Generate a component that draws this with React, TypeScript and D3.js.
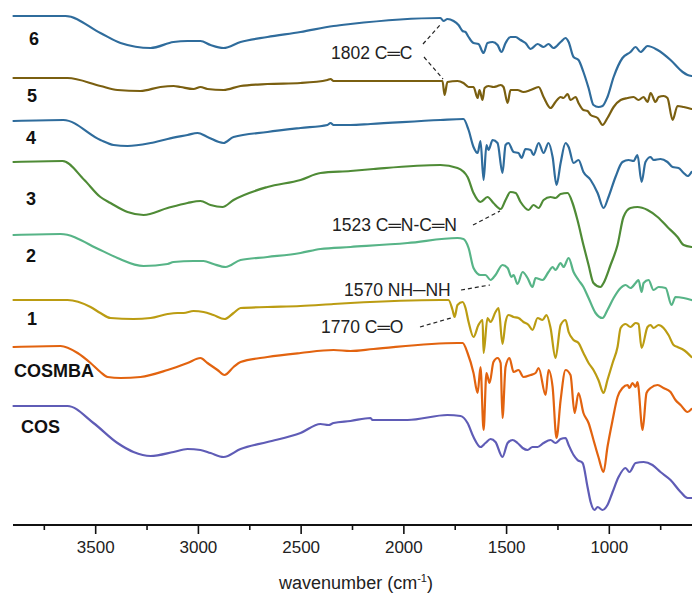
import React from "react";
import * as d3 from "d3";

// ---- Data (wavenumber cm-1, offset transmittance a.u.) ----
const series6: [number, number][] = [
  [3900,509],[3647,509],[3477,492],[3379,482],[3233,477],[3121,483],[3053,484],[2990,484],[2941,480],[2878,477],
  [2795,483],[2664,488],[2503,493],[2342,499],[2260,501],[1822,507],[1807,504],[1788,506],[1758,504],[1734,500],
  [1714,494],[1700,493],[1685,488],[1661,482],[1637,481],[1612,472],[1593,482],[1568,483],[1544,480],[1525,473],
  [1505,482],[1481,488],[1456,488],[1432,485],[1408,482],[1383,476],[1349,481],[1320,478],[1296,481],[1272,477],
  [1237,483],[1213,487],[1198,483],[1174,468],[1150,465],[1126,453],[1101,437],[1077,420],[1053,418],[1033,419],
  [1009,428],[979,448],[936,467],[897,473],[872,478],[848,473],[814,479],[765,475],[702,465],[643,453],[619,450],[600,449],
];
const series5: [number, number][] = [
  [3900,447],[3637,447],[3477,439],[3394,435],[3282,434],[3185,438],[3121,439],[3087,438],[3024,436],[2990,438],
  [2956,436],[2878,435],[2795,439],[2664,441],[2503,442],[2372,445],[2357,446],[2342,444],[2260,444],[1822,444],
  [1812,444],[1802,430],[1788,443],[1739,444],[1710,442],[1685,438],[1661,438],[1641,427],[1632,435],[1617,425],
  [1607,437],[1588,439],[1564,438],[1544,439],[1529,440],[1515,438],[1495,422],[1481,435],[1447,435],[1418,433],
  [1383,435],[1344,438],[1320,428],[1286,417],[1262,423],[1237,428],[1223,427],[1203,431],[1189,425],[1164,428],
  [1150,422],[1126,415],[1106,414],[1091,410],[1057,407],[1033,400],[1009,407],[979,418],[945,425],[911,427],
  [882,428],[858,425],[833,428],[814,423],[799,432],[775,423],[760,428],[736,429],[717,427],[692,405],[668,419],
  [638,418],[600,416],
];
const series4: [number, number][] = [
  [3900,404],[3657,405],[3477,385],[3413,380],[3345,379],[3233,382],[3150,386],[3053,390],[3004,392],[2956,388],
  [2878,382],[2829,388],[2664,393],[2503,397],[2372,400],[2357,402],[2342,400],[2260,400],[2162,401],[1822,405],
  [1710,406],[1685,395],[1661,378],[1641,372],[1627,384],[1612,345],[1598,380],[1588,375],[1568,385],[1544,382],
  [1520,352],[1505,380],[1491,382],[1466,373],[1442,372],[1427,367],[1408,376],[1383,375],[1369,370],[1344,382],
  [1320,372],[1296,382],[1276,368],[1257,340],[1237,362],[1213,382],[1198,378],[1174,362],[1150,365],[1126,353],
  [1091,345],[1057,332],[1028,317],[1004,328],[970,348],[936,363],[906,365],[882,364],[863,370],[843,343],
  [824,363],[799,368],[785,365],[751,366],[717,363],[692,358],[663,357],[638,352],[619,349],[600,353],
];
const series3: [number, number][] = [
  [3900,363],[3661,364],[3555,345],[3477,328],[3428,322],[3345,313],[3267,310],[3150,317],[3053,322],[2990,324],
  [2941,320],[2883,318],[2829,325],[2664,338],[2503,345],[2406,352],[2260,354],[2148,356],[1822,360],[1739,357],
  [1690,348],[1661,332],[1627,323],[1593,328],[1564,322],[1529,316],[1505,325],[1481,333],[1456,332],[1432,323],
  [1393,315],[1369,320],[1344,317],[1320,325],[1286,328],[1262,327],[1237,331],[1203,332],[1179,322],[1155,305],
  [1126,280],[1101,260],[1077,242],[1043,238],[1028,242],[994,260],[960,280],[931,308],[897,317],[863,318],
  [814,315],[765,308],[717,298],[668,288],[638,280],[600,278],
];
const series2: [number, number][] = [
  [3900,290],[3671,291],[3477,275],[3394,267],[3267,259],[3150,261],[3121,263],[3024,264],[2975,264],[2927,261],
  [2868,258],[2795,265],[2664,268],[2503,272],[2406,276],[2260,278],[1982,282],[1739,287],[1710,286],[1685,277],
  [1661,257],[1627,250],[1603,250],[1578,245],[1554,250],[1520,260],[1495,257],[1476,248],[1466,250],[1447,241],
  [1422,253],[1398,247],[1374,238],[1359,247],[1325,245],[1296,253],[1276,258],[1262,255],[1237,262],[1223,258],
  [1198,267],[1174,253],[1150,245],[1126,238],[1101,227],[1067,212],[1033,207],[1009,215],[979,227],[945,237],
  [921,240],[897,237],[872,242],[858,245],[843,233],[833,242],[809,245],[785,235],[760,238],[726,237],[697,220],
  [678,228],[638,227],[600,225],
];
const series1: [number, number][] = [
  [3900,225],[3637,225],[3525,218],[3477,212],[3428,207],[3316,206],[3233,207],[3150,211],[3102,212],[3072,212],
  [3024,214],[2975,213],[2927,210],[2873,206],[2829,212],[2795,217],[2664,218],[2503,219],[2342,221],[2260,222],
  [1822,225],[1783,225],[1763,215],[1753,208],[1739,220],[1714,223],[1700,217],[1685,203],[1661,188],[1637,200],
  [1617,205],[1612,172],[1593,207],[1578,203],[1554,213],[1539,217],[1520,181],[1505,203],[1491,210],[1466,208],
  [1442,207],[1418,203],[1393,200],[1374,195],[1349,207],[1325,205],[1306,210],[1286,197],[1262,167],[1237,200],
  [1213,205],[1198,193],[1174,185],[1150,182],[1126,172],[1101,162],[1077,155],[1053,145],[1028,132],[1009,145],
  [984,162],[960,178],[945,197],[921,201],[897,198],[872,202],[858,201],[843,177],[814,198],[799,200],[785,197],
  [760,200],[736,197],[712,190],[687,180],[668,178],[638,175],[600,168],
];
const seriesCOSMBA: [number, number][] = [
  [3900,178],[3671,179],[3588,172],[3525,162],[3477,153],[3442,148],[3379,147],[3282,148],[3150,155],[3053,162],
  [2990,167],[2956,162],[2907,155],[2873,150],[2829,158],[2795,163],[2664,168],[2503,172],[2342,175],[2260,174],
  [2148,176],[1739,182],[1714,182],[1690,172],[1661,152],[1641,132],[1627,158],[1612,95],[1598,152],[1583,142],
  [1564,163],[1544,167],[1529,162],[1520,107],[1505,158],[1486,167],[1466,153],[1442,155],[1418,148],[1383,150],
  [1359,152],[1344,157],[1310,130],[1296,155],[1276,138],[1257,87],[1237,125],[1213,155],[1189,150],[1169,112],
  [1150,132],[1126,112],[1101,102],[1077,85],[1053,68],[1028,53],[1009,78],[984,105],[960,128],[936,137],
  [911,140],[902,137],[887,142],[872,138],[863,143],[838,95],[819,132],[799,137],[765,140],[736,137],[702,133],
  [678,125],[653,120],[619,113],[600,116],
];
const seriesCOS: [number, number][] = [
  [3900,119],[3637,119],[3511,102],[3394,82],[3316,73],[3233,69],[3121,73],[3053,76],[2990,75],[2941,72],
  [2878,68],[2795,76],[2664,83],[2503,92],[2406,101],[2367,100],[2342,102],[2260,104],[2162,107],[2153,105],
  [1982,105],[1788,110],[1724,109],[1690,102],[1661,88],[1627,78],[1603,82],[1578,86],[1554,83],[1520,68],
  [1495,82],[1471,85],[1447,82],[1422,77],[1398,75],[1374,78],[1349,78],[1320,82],[1286,85],[1262,82],
  [1237,86],[1213,87],[1198,80],[1174,70],[1155,65],[1130,62],[1106,38],[1091,23],[1072,15],[1057,18],
  [1033,15],[1009,20],[984,33],[955,48],[921,57],[902,53],[872,62],[833,63],[790,60],[751,53],[702,45],
  [653,33],[619,27],[600,27],
];

const seriesNames = ["6", "5", "4", "3", "2", "1", "COSMBA", "COS"];
const seriesData = [series6, series5, series4, series3, series2, series1, seriesCOSMBA, seriesCOS];
const seriesColors = ["#2f6c9c", "#7a5f10", "#2f6c9c", "#4f8b36", "#57b487", "#bb9c12", "#e2630f", "#5f5cb6"];

const majorTicks = [3500, 3000, 2500, 2000, 1500, 1000];
const minorTicks = [3750, 3250, 2750, 2250, 1750, 1250, 750];

const annotationTexts = ["1802 C\u2550C", "1523 C\u2550N-C\u2550N", "1570 NH\u2500NH", "1770 C\u2550O"];

export default function App() {
  const W = 692, H = 594;
  const axisY = 525;
  const x = d3.scaleLinear().domain([3900, 600]).range([13.5, 691.5]);
  const y = d3.scaleLinear().domain([0, 510]).range([525, 15]);
  const line = d3.line<[number, number]>()
    .x((d) => x(d[0]))
    .y((d) => y(d[1]))
    .curve(d3.curveMonotoneX);

  const font = "'Liberation Sans', Arial, Helvetica, sans-serif";

  // label placement (layout)
  const labelPos: [number, number][] = [
    [29, 45], [27, 102], [26, 144], [26, 205], [26, 262], [27, 325], [14, 377], [21, 433],
  ];
  const annPos: [number, number][] = [[331, 59], [332, 231], [344, 296], [321, 333]];
  const leaders: [number, number, number, number][] = [
    [423, 44, 440, 25],
    [424, 57, 443, 79],
    [473, 225, 500, 211],
    [461, 290, 490, 285],
    [420, 327, 451, 318],
  ];

  return (
    <svg width={W} height={H} style={{ position: "absolute", left: 0, top: 0, background: "#fff" }}>
      <rect x={0} y={0} width={W} height={H} fill="#fff" />
      {seriesData.map((d, i) => (
        <path key={i} d={line(d) || ""} fill="none" stroke={seriesColors[i]} strokeWidth={2.2}
          strokeLinejoin="round" strokeLinecap="round" />
      ))}
      {seriesNames.map((n, i) => (
        <text key={n} x={labelPos[i][0]} y={labelPos[i][1]} fontFamily={font} fontWeight="bold"
          fontSize={18} fill="#111">{n}</text>
      ))}
      {annotationTexts.map((t, i) => (
        <text key={t} x={annPos[i][0]} y={annPos[i][1]} fontFamily={font} fontSize={17.5} fill="#222">{t}</text>
      ))}
      {leaders.map((l, i) => (
        <line key={i} x1={l[0]} y1={l[1]} x2={l[2]} y2={l[3]} stroke="#222" strokeWidth={1.2}
          strokeDasharray="4,3" />
      ))}
      {/* x axis */}
      <line x1={13} x2={692} y1={axisY} y2={axisY} stroke="#111" strokeWidth={1.8} />
      {majorTicks.map((t) => (
        <g key={t}>
          <line x1={x(t)} x2={x(t)} y1={axisY} y2={axisY + 9} stroke="#111" strokeWidth={1.6} />
          <text x={x(t)} y={553} textAnchor="middle" fontFamily={font} fontSize={17} fill="#222">{t}</text>
        </g>
      ))}
      {minorTicks.map((t) => (
        <line key={t} x1={x(t)} x2={x(t)} y1={axisY} y2={axisY + 5} stroke="#111" strokeWidth={1.6} />
      ))}
      <text x={356} y={589} textAnchor="middle" fontFamily={font} fontSize={18} fill="#222">
        wavenumber (cm<tspan dy={-7} fontSize={11}>-1</tspan><tspan dy={7}>)</tspan>
      </text>
    </svg>
  );
}
